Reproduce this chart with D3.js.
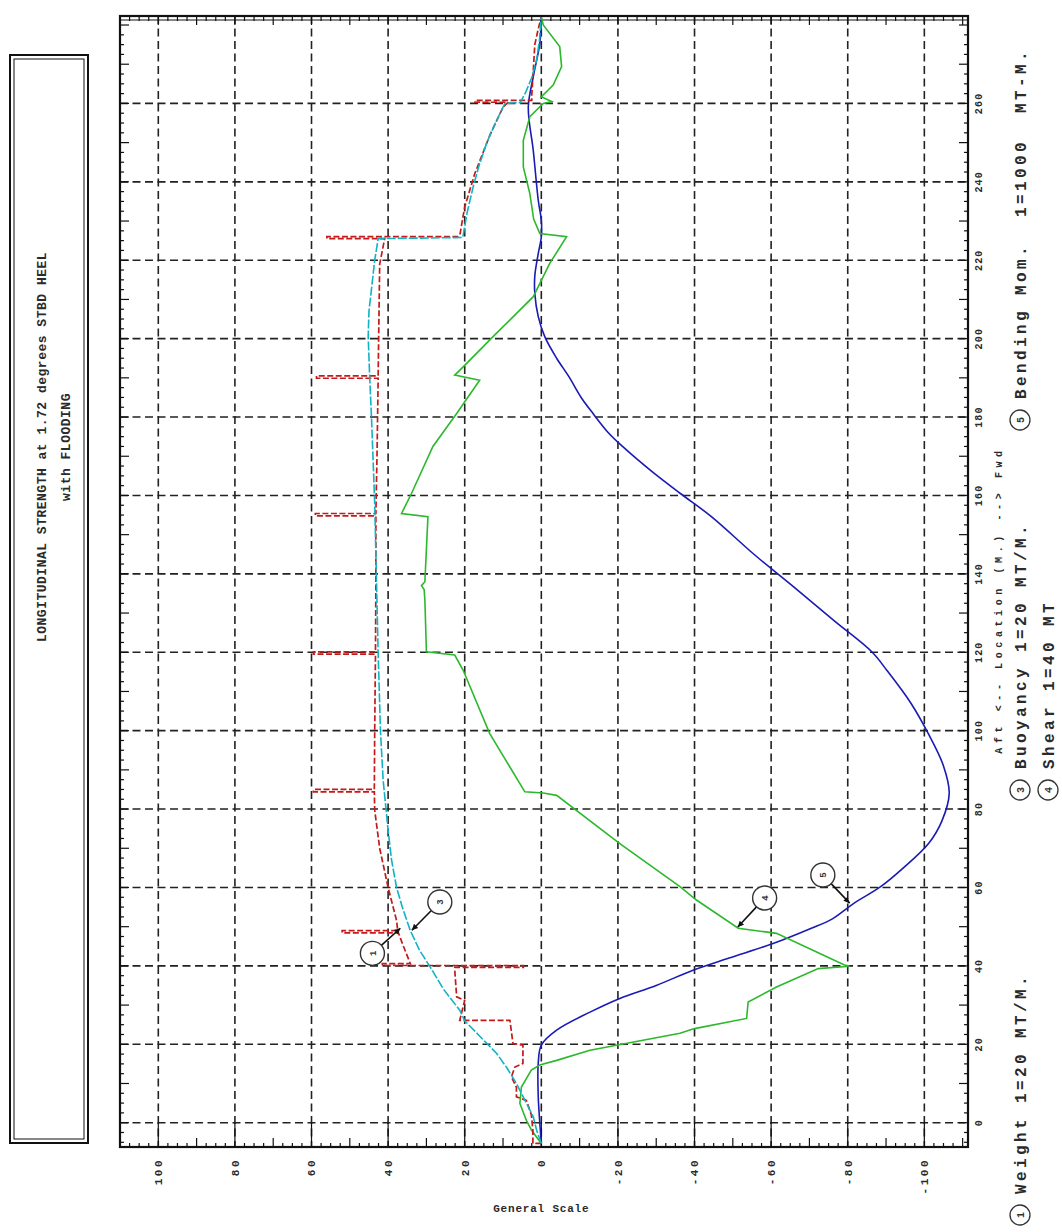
<!DOCTYPE html>
<html><head><meta charset="utf-8">
<script src="https://cdn.jsdelivr.net/npm/d3@7"></script>
<style>body{margin:0;background:#fff}svg{display:block}</style>
</head><body>
<svg id="c" width="1062" height="1232"></svg>
<script>
// ---------------- data ----------------
const titleLines = ["LONGITUDINAL STRENGTH at 1.72 degrees STBD HEEL", "with FLOODING"];
const locTicks = [0,20,40,60,80,100,120,140,160,180,200,220,240,260];
const genTicks = [100,80,60,40,20,0,-20,-40,-60,-80,-100];
const locTitle = "Aft <-- Location (M.) --> Fwd";
const genTitle = "General Scale";

// [location (m), general scale value]
const weight = [[-5.3,0],[-5.3,2.2],[-2,2.2],[2,2.6],[5.7,3.9],[6.6,6.5],[9,6.5],[11.7,7.8],[14.2,6.9],[15.1,4.8],[19.8,4.8],[20.2,7.4],[26.1,8.2],[26.1,21.3],[31.2,20],[32.1,22.1],[38.9,22.6],[39.6,22.6],[39.6,4.7],[40.1,4.7],[40.1,41.5],[40.6,41.5],[40.6,34.2],[45,36],[48.4,37.3],[48.4,52],[49,52],[49,37.5],[51.6,37.8],[60,40],[70,42.2],[79.7,43.5],[84.4,43.6],[84.4,59.5],[85,59.5],[85,43.6],[100,43.5],[119.5,43.3],[119.5,59.5],[120.1,59.5],[120.1,43.3],[136,43.2],[154.8,43.2],[154.8,59],[155.4,59],[155.4,43.2],[170,42.9],[189.9,42.6],[189.9,58.7],[190.5,58.7],[190.5,42.6],[205,42.4],[219,42.2],[225.5,40.9],[225.5,56],[226,56],[226,21.7],[226.8,21.2],[233.6,20],[242,17.4],[252,13.4],[259,10],[260.3,8.7],[260.3,17.3],[260.8,17.3],[260.8,2.5],[262,2.5],[270,2],[275,1.7],[279,0.8],[282,0]];
const buoyancy = [[-5.3,0],[-2,1.2],[1.5,2.1],[5,3.9],[10,6.5],[14,9],[17.7,11.7],[22,16],[26,20],[28.7,21.3],[34,25.5],[39.7,29],[44,31.8],[49,34.2],[55,36.3],[60,37.8],[67,39.1],[74.6,40],[87.4,41.3],[100,42],[119.8,42.6],[136.7,43],[158,43.5],[179,44.3],[190,44.8],[200.5,45.2],[207,45],[213,44.3],[220,43.5],[225.5,42.6],[225.8,20.5],[226.4,20.4],[232,19.4],[238.7,17.8],[244,16.3],[249.8,14.3],[255,12],[259,10],[260,9.5],[260.2,5.5],[263,4],[266.6,2.5],[271,1.25],[276,0.5],[282,0]];
const shear = [[-5.3,0],[-2,2.5],[0.6,3.9],[4.9,5.6],[9.1,5.2],[13.4,2.6],[14.7,0.4],[15.9,-4],[18.5,-12.7],[22.8,-36.2],[24,-40],[26.6,-53.6],[30.8,-54],[34.6,-61.4],[39.3,-72.3],[39.9,-80.5],[40.3,-79],[48.3,-61.4],[49.6,-51.4],[56.8,-40.5],[60.2,-36.2],[71.2,-20.5],[83.5,-4],[84.1,-0.5],[84.4,4.3],[99.3,13.5],[115.4,20.4],[119.3,22.6],[120.1,30],[133.3,30.4],[136,30.6],[137,31.3],[138,30.4],[154.6,29.6],[155.4,36.5],[160.5,33.9],[172.5,28.3],[180.9,22.1],[189.4,16.1],[190.7,22.6],[192.8,20.4],[200.5,12.6],[210.7,2.1],[219.2,-2.2],[226,-6.6],[226.8,0.4],[230.5,2],[237,3],[243.8,4.7],[250.6,4.7],[256.6,3],[260,-0.5],[260.5,-2.7],[261.7,0],[264.7,-3.1],[269.4,-5.3],[274.5,-4.8],[280,-0.5],[282,0]];
const bending = [[-5.3,0],[0,0.4],[6.6,0.8],[15.2,0.8],[19.8,0],[23.6,-4],[28.2,-12.7],[31.7,-20.5],[35,-30],[38.9,-39.6],[42,-49],[45.7,-60.5],[49.6,-70.5],[52,-76],[55.9,-81.5],[60.2,-88.6],[64.8,-94.3],[71.2,-101.1],[77,-104.6],[84,-106.5],[91,-105],[99.3,-101],[107,-96.5],[115.4,-90.2],[120,-86.4],[128,-76.5],[137,-65.5],[145,-55.5],[154.6,-44.4],[160.5,-36.3],[166,-29],[172.5,-21.2],[176,-17.5],[180.9,-13.5],[185,-10.4],[190.3,-7.2],[195,-4],[200.5,-0.9],[205.6,0.8],[211.5,1.7],[216,1.7],[221.7,0.8],[226,0],[230.2,0],[235.3,0.8],[248,2.1],[259,3.4],[266.8,2.1],[275.3,0.4],[282,0]];

// annotation callouts: circle centre and arrow target in data units
const callouts = [
  {label:"1", cL:43.2, cV:44.1, tL:49.6, tV:36.8},
  {label:"3", cL:56.3, cV:26.5, tL:49.1, tV:33.8},
  {label:"4", cL:57.3, cV:-58.3, tL:49.9, tV:-51.3},
  {label:"5", cL:63.2, cV:-73.5, tL:56.0, tV:-80.5}
];
const legendItems = [
  {num:"1", text:"Weight 1=20 MT/M."},
  {num:"3", text:"Buoyancy 1=20 MT/M."},
  {num:"4", text:"Shear 1=40 MT"},
  {num:"5", text:"Bending Mom.  1=1000  MT-M."}
];

// ---------------- drawing ----------------
const svg = d3.select("#c");
const FONT = "'Liberation Mono','DejaVu Sans Mono',monospace";
const TXT = "#2a2a2a";
const L = {x0:120, x1:968, y0:16, y1:1147};
const gx = d3.scaleLinear().domain([110,-111.4]).range([L.x0,L.x1]);
const ly = d3.scaleLinear().domain([-6.2,282.3]).range([L.y1,L.y0]);

// title box
const tb = svg.append("g");
tb.append("rect").attr("x",10).attr("y",55).attr("width",78).attr("height",1088).attr("fill","none").attr("stroke","#111").attr("stroke-width",2);
tb.append("rect").attr("x",14).attr("y",59).attr("width",70).attr("height",1080).attr("fill","none").attr("stroke","#111").attr("stroke-width",1);
titleLines.forEach((t,i)=>{
  tb.append("text").attr("transform",`translate(${41+i*24},447) rotate(-90)`)
    .attr("text-anchor","middle").attr("dy","0.35em").attr("font-family",FONT).attr("font-weight","bold")
    .attr("font-size",13).attr("letter-spacing",0.5).attr("fill",TXT).text(t);
});

// grid
const grid = svg.append("g").attr("stroke","#222").attr("stroke-width",1.6).attr("stroke-dasharray","8,4.5");
genTicks.forEach(v=>grid.append("line").attr("x1",gx(v)).attr("x2",gx(v)).attr("y1",L.y0).attr("y2",L.y1));
locTicks.forEach(l=>grid.append("line").attr("y1",ly(l)).attr("y2",ly(l)).attr("x1",L.x0).attr("x2",L.x1));

// minor ticks
const tk = svg.append("g").attr("stroke","#111").attr("stroke-width",1.2);
for(let v=-110; v<=110; v+=2.5){
  const x=gx(v); if(x<L.x0+1||x>L.x1-1) continue;
  const len = v%20===0 ? (L.y1-ly(0)) : (v%10===0?9:4);
  tk.append("line").attr("x1",x).attr("x2",x).attr("y1",L.y1).attr("y2",L.y1-len);
  tk.append("line").attr("x1",x).attr("x2",x).attr("y1",L.y0).attr("y2",L.y0+(v%10===0?9:5));
}
for(let l=-5; l<=282; l+=2.5){
  const y=ly(l); if(y<L.y0+1||y>L.y1-1) continue;
  const len = l%10===0?9:4;
  tk.append("line").attr("y1",y).attr("y2",y).attr("x1",L.x0).attr("x2",L.x0+len);
  tk.append("line").attr("y1",y).attr("y2",y).attr("x1",L.x1).attr("x2",L.x1-len);
}
svg.append("line").attr("x1",L.x0).attr("x2",L.x1).attr("y1",L.y0+4).attr("y2",L.y0+4).attr("stroke","#111").attr("stroke-width",1);
// frame
svg.append("rect").attr("x",L.x0).attr("y",L.y0).attr("width",L.x1-L.x0).attr("height",L.y1-L.y0)
  .attr("fill","none").attr("stroke","#111").attr("stroke-width",2.2);

// tick labels
locTicks.forEach(l=>svg.append("text").attr("transform",`translate(${978},${ly(l)}) rotate(-90)`)
  .attr("text-anchor","middle").attr("dy","0.35em").attr("font-family",FONT).attr("font-weight","bold")
  .attr("font-size",10).attr("letter-spacing",1.2).attr("fill",TXT).text(l));
genTicks.forEach(v=>svg.append("text").attr("transform",`translate(${gx(v)},1158) rotate(-90)`)
  .attr("text-anchor","end").attr("dy","0.35em").attr("font-family",FONT).attr("font-weight","bold")
  .attr("font-size",11).attr("letter-spacing",2.5).attr("fill",TXT).text(v));
svg.append("text").attr("x",gx(0)).attr("y",1212).attr("text-anchor","middle").attr("font-family",FONT)
  .attr("font-weight","bold").attr("font-size",11).attr("letter-spacing",0.8).attr("fill",TXT).text(genTitle);
svg.append("text").attr("transform",`translate(998,600) rotate(-90)`).attr("text-anchor","middle")
  .attr("dy","0.35em").attr("font-family",FONT).attr("font-weight","bold").attr("font-size",10)
  .attr("letter-spacing",4.6).attr("fill",TXT).text(locTitle);

// curves
const line = d3.line().x(d=>gx(d[1])).y(d=>ly(d[0]));
const plot = svg.append("g");
plot.append("path").datum(bending).attr("d",line.curve(d3.curveCatmullRom)).attr("fill","none").attr("stroke","#1a1ab4").attr("stroke-width",1.6);
line.curve(d3.curveLinear);
plot.append("path").datum(shear).attr("d",line).attr("fill","none").attr("stroke","#2cb82c").attr("stroke-width",1.6);
plot.append("path").datum(weight).attr("d",line).attr("fill","none").attr("stroke","#c41a1a").attr("stroke-width",1.7).attr("stroke-dasharray","6,2.5");
plot.append("path").datum(buoyancy).attr("d",line).attr("fill","none").attr("stroke","#12b2c4").attr("stroke-width",1.6).attr("stroke-dasharray","9,2");

// callouts
const defs = svg.append("defs");
defs.append("marker").attr("id","ah").attr("viewBox","0 0 10 10").attr("refX",10).attr("refY",5)
  .attr("markerWidth",11).attr("markerHeight",6).attr("markerUnits","userSpaceOnUse").attr("orient","auto")
  .append("path").attr("d","M0,0L10,5L0,10z").attr("fill","#111");
callouts.forEach(c=>{
  const cx=gx(c.cV), cy=ly(c.cL), tx=gx(c.tV), ty=ly(c.tL);
  const ang=Math.atan2(ty-cy,tx-cx), r=12;
  svg.append("line").attr("x1",cx+r*Math.cos(ang)).attr("y1",cy+r*Math.sin(ang)).attr("x2",tx).attr("y2",ty)
    .attr("stroke","#111").attr("stroke-width",1.6).attr("marker-end","url(#ah)");
  svg.append("circle").attr("cx",cx).attr("cy",cy).attr("r",r).attr("fill","#fff").attr("stroke","#333").attr("stroke-width",1.4);
  svg.append("text").attr("transform",`translate(${cx},${cy}) rotate(-90)`).attr("text-anchor","middle").attr("dy","0.35em")
    .attr("font-family",FONT).attr("font-size",9).attr("font-weight","bold").attr("fill","#333").text(c.label);
});

// legend
const legPos = [{x:1020,y:1215},{x:1020,y:790},{x:1048,y:790},{x:1020,y:420}];
legendItems.forEach((it,i)=>{
  const p=legPos[i];
  svg.append("circle").attr("cx",p.x).attr("cy",p.y).attr("r",10).attr("fill","#fff").attr("stroke","#333").attr("stroke-width",1.3);
  svg.append("text").attr("transform",`translate(${p.x},${p.y}) rotate(-90)`).attr("text-anchor","middle").attr("dy","0.35em")
    .attr("font-family",FONT).attr("font-size",10).attr("font-weight","bold").attr("fill","#333").text(it.num);
  svg.append("text").attr("transform",`translate(${p.x},${p.y-21}) rotate(-90)`).attr("dy","0.35em")
    .style("white-space","pre")
    .attr("font-family",FONT).attr("font-size",16).attr("font-weight","bold").attr("letter-spacing",3.4).attr("fill",TXT).text(it.text);
});
</script>
</body></html>
